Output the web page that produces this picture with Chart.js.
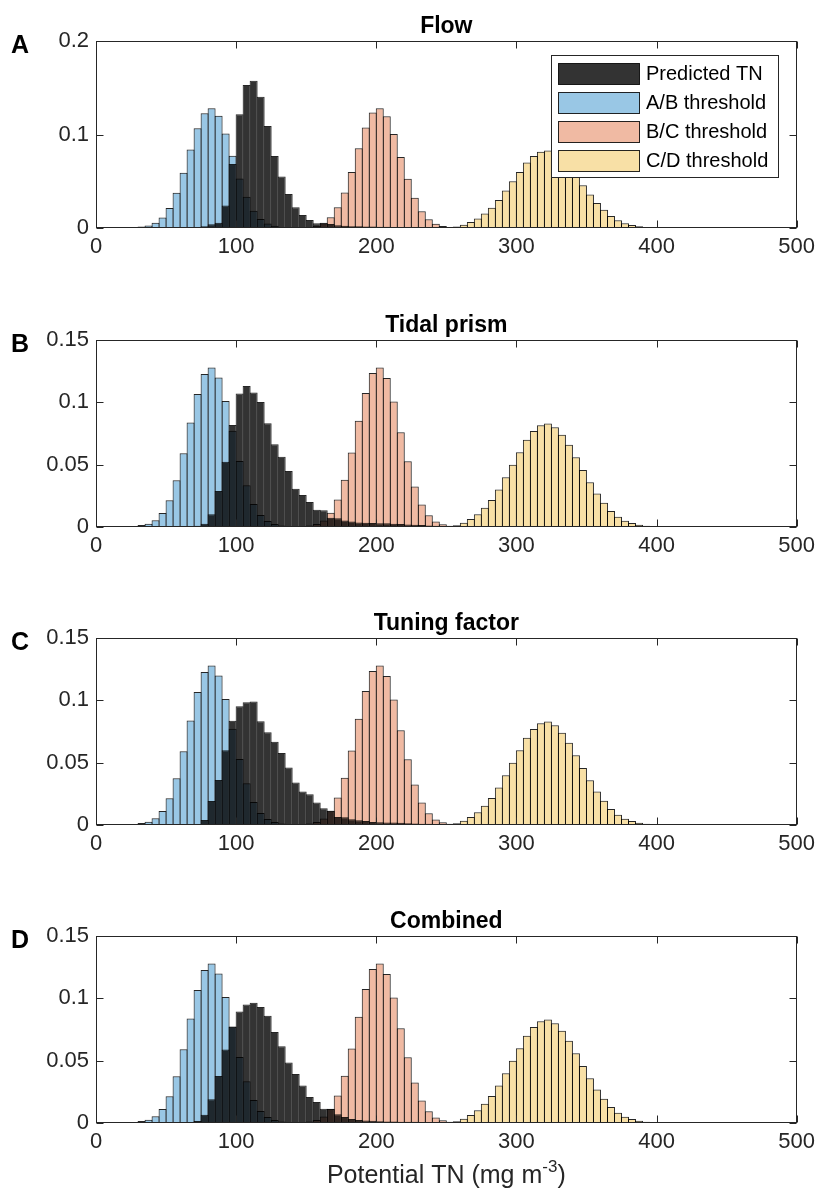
<!DOCTYPE html>
<html>
<head>
<meta charset="utf-8">
<script src="https://cdn.jsdelivr.net/npm/chart.js@4.4.1/dist/chart.umd.min.js"></script>
<style>
html,body{margin:0;padding:0;background:#fff;}
body{width:821px;height:1195px;position:relative;overflow:hidden;}
.panel{position:absolute;left:0;width:821px;}
canvas{display:block;}
</style>
</head>
<body>
<div class="panel" style="top:0px;height:299px"><canvas id="cA" width="821" height="299"></canvas></div>
<div class="panel" style="top:299px;height:298px"><canvas id="cB" width="821" height="298"></canvas></div>
<div class="panel" style="top:597px;height:298px"><canvas id="cC" width="821" height="298"></canvas></div>
<div class="panel" style="top:895px;height:300px"><canvas id="cD" width="821" height="300"></canvas></div>
<script>
const n = null;

// Bin centres (bin width 5 mg m^-3)
const BIN_CENTERS = [
  22.5,27.5,32.5,37.5,42.5,47.5,52.5,57.5,62.5,67.5,
  72.5,77.5,82.5,87.5,92.5,97.5,102.5,107.5,112.5,117.5,
  122.5,127.5,132.5,137.5,142.5,147.5,152.5,157.5,162.5,167.5,
  172.5,177.5,182.5,187.5,192.5,197.5,202.5,207.5,212.5,217.5,
  222.5,227.5,232.5,237.5,242.5,247.5,252.5,257.5,262.5,267.5,
  272.5,277.5,282.5,287.5,292.5,297.5,302.5,307.5,312.5,317.5,
  322.5,327.5,332.5,337.5,342.5,347.5,352.5,357.5,362.5,367.5,
  372.5,377.5,382.5,387.5,392.5,397.5,402.5
];

const SERIES_LABELS = ['Predicted TN','A/B threshold','B/C threshold','C/D threshold'];
const PANEL_TITLES = ['Flow','Tidal prism','Tuning factor','Combined'];
const PANEL_LETTERS = ['A','B','C','D'];
const X_TICKS = [0,100,200,300,400,500];
const Y_TICKS_A = [0,0.1,0.2];
const Y_TICKS_BCD = [0,0.05,0.1,0.15];

// Threshold distributions (same in all panels)
const AB = [
  n,0.0008,0.0016,0.0027,0.0055,0.0112,0.0215,0.0376,0.0592,0.0839,
  0.1066,0.1228,0.128,0.120,0.101,0.0772,0.053,0.0335,0.0185,0.0096,
  0.0048,0.0024,0.0012,0.0005,0.0002,n,n,n,n,n,
  n,n,n,n,n,n,n,n,n,n,
  n,n,n,n,n,n,n,n,n,n,
  n,n,n,n,n,n,n,n,n,n,
  n,n,n,n,n,n,n,n,n,n,
  n,n,n,n,n,n,n
];
const BC = [
  n,n,n,n,n,n,n,n,n,n,
  n,n,n,n,n,n,n,n,n,n,
  n,n,n,n,n,0.0006,0.0012,0.0025,0.0052,0.0114,
  0.0221,0.038,0.0598,0.0853,0.1075,0.1235,0.128,0.1195,0.1006,0.076,
  0.0527,0.0324,0.018,0.0094,0.0045,0.0022,0.001,0.0004,n,n,
  n,n,n,n,n,n,n,n,n,n,
  n,n,n,n,n,n,n,n,n,n,
  n,n,n,n,n,n,n
];
const CD = [
  n,n,n,n,n,n,n,n,n,n,
  n,n,n,n,n,n,n,n,n,n,
  n,n,n,n,n,n,n,n,n,n,
  n,n,n,n,n,n,n,n,n,n,
  n,n,n,n,n,n,0.0005,0.0015,0.0035,0.0064,
  0.0102,0.0155,0.0217,0.030,0.040,0.050,0.060,0.070,0.077,0.0816,
  0.083,0.080,0.074,0.066,0.056,0.0457,0.0358,0.0268,0.0195,0.0128,
  0.0083,0.0051,0.0032,0.0019,0.001,0.0005,0.0002
];

// Predicted TN distributions per panel
const TN_FLOW = [
  n,n,n,n,n,n,n,n,n,n,
  0.0008,0.002,0.004,0.0057,0.024,0.0685,0.1216,0.153,0.1576,0.1405,
  0.109,0.077,0.055,0.0364,0.0222,0.0139,0.0086,0.005,0.0055,0.0042,
  0.003,0.0025,0.002,0.002,0.0016,0.0015,0.0014,0.0013,0.0011,0.001,
  0.0009,0.0008,0.0007,0.0006,0.0005,0.0004,0.0003,0.0002,n,n,
  n,n,n,n,n,n,n,n,n,n,
  n,n,n,n,n,n,n,n,n,n,
  n,n,n,n,n,n,n
];
const TN_TIDAL = [
  n,n,n,n,n,n,n,n,n,n,
  0.001,0.0027,0.0102,0.0289,0.0524,0.0819,0.107,0.1132,0.1078,0.1003,
  0.0832,0.0663,0.0564,0.0449,0.0307,0.0257,0.0201,0.0139,0.0134,0.0075,
  0.007,0.0053,0.0045,0.0037,0.0035,0.0032,0.003,0.003,0.0027,0.0025,
  0.0021,0.0019,0.0016,0.0013,0.001,0.0008,0.0005,0.0005,0.0003,0.0003,
  0.0002,0.0002,n,n,n,n,n,n,n,n,
  n,n,n,n,n,n,n,n,n,n,
  n,n,n,n,n,n,n
];
const TN_TUNING = [
  n,n,n,n,n,n,n,n,n,n,
  0.0008,0.004,0.0193,0.036,0.060,0.0837,0.0953,0.0985,0.099,0.0832,
  0.0743,0.0668,0.0577,0.0462,0.0341,0.0268,0.0247,0.018,0.0134,0.0115,
  0.0065,0.0062,0.0046,0.0038,0.0032,0.0025,0.0022,0.002,0.002,0.0018,
  0.0015,0.0012,0.001,0.001,0.0007,0.0007,0.0005,0.0005,0.0003,0.0003,
  0.0002,0.0002,n,n,n,n,n,n,n,n,
  n,n,n,n,n,n,n,n,n,n,
  n,n,n,n,n,n,n
];
const TN_COMBINED = [
  n,n,n,n,n,n,n,n,n,0.0005,
  0.0016,0.0067,0.019,0.0377,0.059,0.0775,0.0895,0.0951,0.0965,0.093,
  0.086,0.073,0.0615,0.0486,0.0393,0.030,0.0209,0.0169,0.0115,0.0113,
  0.007,0.0048,0.0033,0.0025,0.0021,0.0019,0.0015,0.0013,0.0013,0.001,
  0.001,0.001,0.0006,0.0006,0.0005,0.0004,0.0003,0.0003,0.0002,n,
  n,n,n,n,n,n,n,n,n,n,
  n,n,n,n,n,n,n,n,n,n,
  n,n,n,n,n,n,n
];

const FONT = '"Liberation Sans", Arial, Helvetica, sans-serif';
const AXIS_COLOR = '#262626';
const FILLS = ['rgba(0,0,0,0.8)','rgba(0,114,189,0.4)','rgba(217,83,25,0.4)','rgba(237,177,32,0.4)'];

function toXY(arr){ return BIN_CENTERS.map((x,i)=>({x:x, y:arr[i]})); }

const deco = {
  id: 'deco',
  afterDatasetsDraw(chart, args, o) {
    const ctx = chart.ctx, a = chart.chartArea, xs = chart.scales.x, ys = chart.scales.y;
    ctx.save();
    const L = Math.round(a.left)+0.5, R = Math.round(a.right)-0.5;
    const T = Math.round(a.top)+0.5, B = Math.round(a.bottom)-0.5;
    ctx.strokeStyle = AXIS_COLOR; ctx.lineWidth = 1;
    ctx.beginPath();
    xs.ticks.forEach(t => {
      const px = Math.round(xs.getPixelForValue(t.value))+0.5;
      ctx.moveTo(px,B); ctx.lineTo(px,B-7);
      ctx.moveTo(px,T); ctx.lineTo(px,T+7);
    });
    ys.ticks.forEach(t => {
      const py = Math.round(ys.getPixelForValue(t.value))+0.5;
      ctx.moveTo(L,py); ctx.lineTo(L+7,py);
      ctx.moveTo(R,py); ctx.lineTo(R-7,py);
    });
    ctx.stroke();
    ctx.strokeRect(L, T, R-L, B-T);

    if (o.legend) {
      const bx = 551.5, by = 55.5, bw = 227, bh = 122;
      ctx.fillStyle = '#fff'; ctx.fillRect(bx, by, bw, bh);
      ctx.strokeStyle = AXIS_COLOR; ctx.strokeRect(bx, by, bw, bh);
      ctx.font = '20px ' + FONT; ctx.textBaseline = 'middle'; ctx.textAlign = 'left';
      chart.data.datasets.forEach((ds, i) => {
        const sy = 63.5 + i*29;
        ctx.fillStyle = ds.backgroundColor;
        ctx.fillRect(558.5, sy, 81, 21);
        ctx.strokeStyle = 'rgba(0,0,0,0.85)';
        ctx.strokeRect(558.5, sy, 81, 21);
        ctx.fillStyle = '#000';
        ctx.fillText(ds.label, 646, sy + 11);
      });
    }
    ctx.restore();
  },
  afterDraw(chart, args, o) {
    const ctx = chart.ctx, a = chart.chartArea;
    ctx.save();
    ctx.fillStyle = '#000';
    ctx.textBaseline = 'alphabetic';
    ctx.font = 'bold 23px ' + FONT;
    ctx.textAlign = 'center';
    ctx.fillText(o.title, (a.left + a.right)/2, a.top - 8);
    ctx.textAlign = 'left';
    ctx.font = 'bold 25px ' + FONT;
    ctx.fillText(o.letter, 11, a.top + 12);
    if (o.xlabel) {
      ctx.fillStyle = AXIS_COLOR;
      const p1 = 'Potential TN (mg m', sup = '-3', p2 = ')';
      ctx.font = '25px ' + FONT; const w1 = ctx.measureText(p1).width, w3 = ctx.measureText(p2).width;
      ctx.font = '17px ' + FONT; const w2 = ctx.measureText(sup).width;
      const cx = (a.left + a.right)/2, base = 288;
      let x0 = cx - (w1 + w2 + w3)/2;
      ctx.font = '25px ' + FONT; ctx.fillText(p1, x0, base);
      ctx.font = '17px ' + FONT; ctx.fillText(sup, x0 + w1, base - 11);
      ctx.font = '25px ' + FONT; ctx.fillText(p2, x0 + w1 + w2, base);
    }
    ctx.restore();
  }
};

function makePanel(id, k, tn, ymax, yticks, height) {
  const ds = [tn, AB, BC, CD].map((arr, i) => ({
    label: SERIES_LABELS[i],
    data: toXY(arr),
    backgroundColor: FILLS[i],
    borderColor: 'rgba(0,0,0,0.85)',
    borderWidth: 1,
    borderSkipped: 'start',
    grouped: false,
    barPercentage: 1.142,
    categoryPercentage: 1,
    inflateAmount: 0
  }));
  return new Chart(document.getElementById(id), {
    type: 'bar',
    data: { datasets: ds },
    options: {
      responsive: false,
      animation: false,
      events: [],
      devicePixelRatio: 1,
      layout: { padding: { top: 41, right: 23, left: 0, bottom: 0 } },
      plugins: {
        legend: { display: false },
        tooltip: { enabled: false },
        title: { display: false },
        deco: { title: PANEL_TITLES[k], letter: PANEL_LETTERS[k], legend: k === 0, xlabel: k === 3 }
      },
      scales: {
        x: {
          type: 'linear', min: X_TICKS[0], max: X_TICKS[X_TICKS.length-1], offset: false,
          grid: { display: false, drawTicks: false, offset: false }, border: { display: false },
          afterBuildTicks: s => { s.ticks = X_TICKS.map(v => ({value: v})); },
          ticks: { color: AXIS_COLOR, font: { family: FONT, size: 22 }, padding: 6, maxRotation: 0, autoSkip: false,
                   callback: v => String(v) },
          afterFit: s => { s.height = height - 228; }
        },
        y: {
          min: yticks[0], max: ymax,
          grid: { display: false, drawTicks: false }, border: { display: false },
          afterBuildTicks: s => { s.ticks = yticks.map(v => ({value: v})); },
          ticks: { color: AXIS_COLOR, font: { family: FONT, size: 22 }, padding: 7, autoSkip: false,
                   callback: v => String(+Number(v).toFixed(4)) },
          afterFit: s => { s.width = 96; }
        }
      }
    },
    plugins: [deco]
  });
}

makePanel('cA', 0, TN_FLOW, 0.2, Y_TICKS_A, 299);
makePanel('cB', 1, TN_TIDAL, 0.15, Y_TICKS_BCD, 298);
makePanel('cC', 2, TN_TUNING, 0.15, Y_TICKS_BCD, 298);
makePanel('cD', 3, TN_COMBINED, 0.15, Y_TICKS_BCD, 300);
</script>
</body>
</html>
